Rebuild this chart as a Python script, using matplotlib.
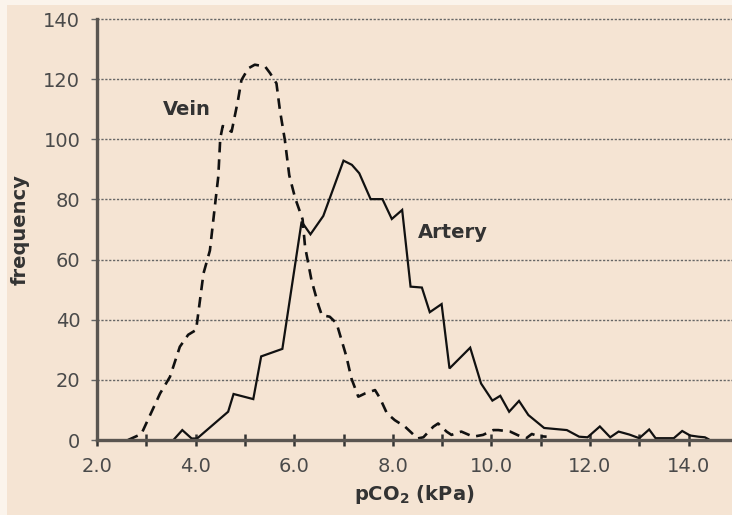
import matplotlib
matplotlib.use("Agg")
import matplotlib.pyplot as plt
from matplotlib.patches import Rectangle

# Frequency polygons of pCO2 (kPa) for arterial and venous samples
artery_x = [3.55, 3.73, 3.92, 4.03, 4.66, 4.77, 5.17, 5.33, 5.76, 6.15, 6.33, 6.59,
            7.00, 7.17, 7.32, 7.55, 7.79, 7.98, 8.19, 8.36, 8.59, 8.75, 8.99, 9.15,
            9.57, 9.79, 10.02, 10.18, 10.36, 10.56, 10.75, 11.07, 11.53, 11.78, 11.95,
            12.20, 12.41, 12.58, 12.80, 13.00, 13.20, 13.33, 13.70, 13.87, 14.03,
            14.20, 14.33, 14.40]
artery_y = [0, 3.3, 0.5, 0.5, 9.4, 15.3, 13.6, 27.8, 30.3, 72.6, 68.4, 74.5,
            92.9, 91.5, 88.7, 80.1, 80.1, 73.5, 76.5, 51.0, 50.7, 42.5, 45.2, 23.8,
            30.7, 18.8, 13.1, 14.7, 9.4, 13.0, 8.3, 4.0, 3.3, 1.1, 0.9,
            4.5, 0.9, 2.8, 1.8, 0.6, 3.5, 0.6, 0.6, 3.0, 1.5,
            1.1, 0.9, 0.3]

vein_x = [2.63, 2.90, 3.28, 3.48, 3.68, 3.85, 4.01, 4.16, 4.29, 4.39, 4.46, 4.50,
          4.55, 4.73, 4.86, 4.93, 5.07, 5.20, 5.41, 5.51, 5.64, 5.71, 5.81, 5.90,
          6.02, 6.17, 6.22, 6.35, 6.49, 6.56, 6.72, 6.86, 7.06, 7.16, 7.30, 7.44,
          7.64, 7.74, 7.88, 8.04, 8.25, 8.38, 8.50, 8.62, 8.82, 8.92, 9.09, 9.19,
          9.39, 9.63, 9.83, 10.04, 10.14, 10.38, 10.55, 10.70, 10.82, 10.95, 11.12]
vein_y = [0, 2.0, 15.5, 21.0, 31.0, 35.0, 36.6, 55.4, 63.0, 77.6, 87.6, 100.3,
          104.4, 102.5, 113.0, 119.7, 123.6, 124.8, 124.2, 122.0, 118.6, 109.7, 99.8, 88.0,
          80.4, 73.4, 64.3, 53.2, 44.9, 41.5, 41.0, 38.8, 27.7, 20.5, 14.4, 15.5,
          16.6, 13.9, 8.9, 6.6, 4.4, 2.4, 0.5, 0.9, 4.4, 5.5, 2.8, 1.7,
          2.8, 1.1, 1.7, 3.3, 3.3, 2.8, 1.5, 0.5, 2.0, 1.3, 1.1]

x_ticks = [2, 3, 4, 5, 6, 7, 8, 9, 10, 11, 12, 13, 14]
x_labels = ["2.0", "", "4.0", "", "6.0", "", "8.0", "", "10.0", "", "12.0", "", "14.0"]
y_ticks = [0, 20, 40, 60, 80, 100, 120, 140]

bg = "#F5E4D3"
ink = "#4a4a4a"

plt.rcParams["font.family"] = ["DejaVu Sans"]
plt.rcParams["mathtext.fontset"] = "dejavusans"

fig = plt.figure(figsize=(7.32, 5.15), dpi=100, facecolor="#FBF4EC")
fig.patches.append(Rectangle((7 / 732, 0), 1, 1 - 5 / 515, transform=fig.transFigure,
                             facecolor=bg, edgecolor="none", zorder=-10))
ax = fig.add_axes([97 / 732, 75 / 515, 635 / 732, 421 / 515])
ax.set_facecolor("none")

ax.set_xlim(2, 2 + 635 / 49.3)
ax.set_ylim(0, 140)

for yv in y_ticks[1:]:
    ax.axhline(yv, color="#666666", lw=1.0, ls=(0, (1.6, 1.2)), zorder=1, clip_on=False)

ax.plot(vein_x, vein_y, color="#111111", lw=1.9, ls=(0, (4.0, 2.6)), zorder=3,
        solid_capstyle="butt", dash_capstyle="butt")
ax.plot(artery_x, artery_y, color="#111111", lw=1.6, zorder=4, solid_joinstyle="miter")

for side in ["top", "right"]:
    ax.spines[side].set_visible(False)
for side in ["left", "bottom"]:
    ax.spines[side].set_linewidth(2.4)
    ax.spines[side].set_color("#5a5550")
    ax.spines[side].set_zorder(5)

ax.set_xticks(x_ticks)
ax.set_xticklabels(x_labels)
ax.set_yticks(y_ticks)
ax.tick_params(axis="x", direction="inout", length=9, width=1.8, color="#333333",
               labelsize=14, labelcolor=ink, pad=8)
ax.tick_params(axis="y", direction="out", length=4, width=1.0, color="#666666",
               labelsize=14, labelcolor=ink, pad=8)

ax.set_xlabel(r"pCO$_\mathbf{2}$ (kPa)", fontsize=14, fontweight="bold", color="#333333",
              labelpad=5)
ax.set_ylabel("frequency", fontsize=14, fontweight="bold", color="#333333", labelpad=10)

ax.text(3.83, 110, "Vein", fontsize=14, fontweight="bold", color="#333333",
        ha="center", va="center")
ax.text(9.22, 69, "Artery", fontsize=14, fontweight="bold", color="#333333",
        ha="center", va="center")

fig.savefig("out.png", dpi=100, facecolor=fig.get_facecolor())
